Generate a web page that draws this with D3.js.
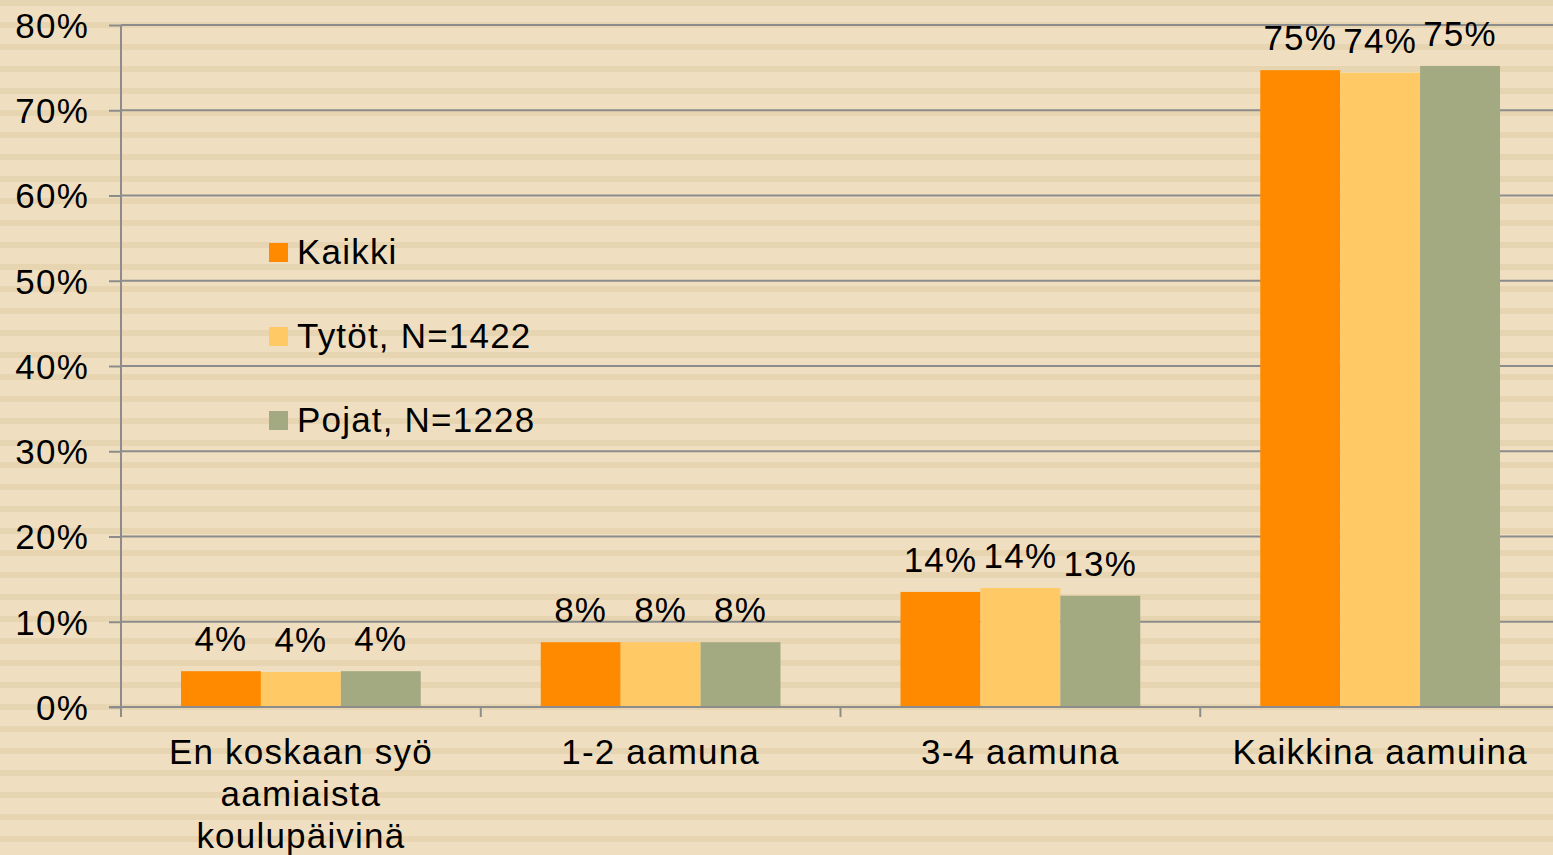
<!DOCTYPE html>
<html>
<head>
<meta charset="utf-8">
<script src="https://cdn.jsdelivr.net/npm/d3@7"></script>
<style>
body { margin: 0; padding: 0; overflow: hidden; }
svg text { font-family: "Liberation Sans", Arial, sans-serif; fill: #000; font-size: 35px; letter-spacing: 1.2px; }
.grid line { stroke: #8c8c8c; stroke-width: 2px; }
.axis path, .axis line { stroke: #8c8c8c; stroke-width: 2px; }
</style>
</head>
<body>
<svg id="chart" width="1553" height="855"></svg>
<script>

var categories = [["En koskaan syö", "aamiaista", "koulupäivinä"], ["1-2 aamuna"], ["3-4 aamuna"], ["Kaikkina aamuina"]];
var seriesNames = ["Kaikki", "Tytöt, N=1422", "Pojat, N=1228"];
var kaikki = [4.2, 7.6, 13.5, 74.7];
var tytot = [4.1, 7.6, 13.95, 74.4];
var pojat = [4.2, 7.6, 13.05, 75.2];
var valueLabels = [["4%", "8%", "14%", "75%"], ["4%", "8%", "14%", "74%"], ["4%", "8%", "13%", "75%"]];
var yTicks = [0, 10, 20, 30, 40, 50, 60, 70, 80];
var colors = ["#ff8a00", "#ffc966", "#a3a980"];

var series = [kaikki, tytot, pojat];

var svg = d3.select("#chart"),
    W = +svg.attr("width"),
    H = +svg.attr("height");

/// striped background
var defs = svg.append("defs");
var pat = defs.append("pattern")
    .attr("id", "stripes")
    .attr("patternUnits", "userSpaceOnUse")
    .attr("width", 40).attr("height", 22);
pat.append("rect").attr("width", 40).attr("height", 22).attr("fill", "#efdfc0");
pat.append("rect").attr("width", 40).attr("height", 6).attr("fill", "#e7d5b1");
svg.append("rect").attr("width", W).attr("height", H).attr("fill", "url(#stripes)");

var margin = {top: 25, left: 121, bottom: 148},
    plotW = 1439,
    plotH = H - margin.top - margin.bottom; // 682

var g = svg.append("g").attr("transform", "translate(" + margin.left + "," + margin.top + ")");

var x = d3.scaleBand()
    .domain(d3.range(categories.length))
    .range([0, plotW])
    .paddingInner(0).paddingOuter(0);

var xs = d3.scaleBand()
    .domain(d3.range(series.length))
    .range([60, x.bandwidth() - 60]);

var y = d3.scaleLinear().domain([0, 80]).range([plotH, 0]);

/// gridlines
g.append("g").attr("class", "grid")
  .selectAll("line").data(yTicks.slice(1)).enter().append("line")
    .attr("x1", 0).attr("x2", plotW)
    .attr("y1", function(d) { return y(d); })
    .attr("y2", function(d) { return y(d); });

/// y axis
var yAxis = d3.axisLeft(y).tickValues(yTicks).tickSize(12).tickPadding(20)
    .tickFormat(function(d) { return d + "%"; });
var ya = g.append("g").attr("class", "axis").call(yAxis);
ya.select(".domain").attr("d", "M0," + plotH + "V0");
ya.selectAll("text").attr("font-size", null).attr("font-family", null).attr("dy", "0.35em");

/// bars
series.forEach(function(vals, si) {
  g.selectAll(".bar" + si).data(vals).enter().append("rect")
    .attr("x", function(d, i) { return x(i) + xs(si); })
    .attr("y", function(d) { return y(d); })
    .attr("width", xs.bandwidth())
    .attr("height", function(d) { return plotH - y(d); })
    .attr("fill", colors[si]);

  g.selectAll(".lab" + si).data(vals).enter().append("text")
    .attr("x", function(d, i) { return x(i) + xs(si) + xs.bandwidth() / 2; })
    .attr("y", function(d) { return y(d) - 20; })
    .attr("text-anchor", "middle")
    .text(function(d, i) { return valueLabels[si][i]; });
});

/// x axis
var xa = g.append("g").attr("class", "axis").attr("transform", "translate(0," + plotH + ")");
xa.append("line").attr("x1", -12).attr("x2", plotW).attr("y1", 0).attr("y2", 0);
xa.selectAll(".tick").data(d3.range(categories.length + 1)).enter().append("line")
    .attr("x1", function(d) { return d * x.bandwidth(); })
    .attr("x2", function(d) { return d * x.bandwidth(); })
    .attr("y1", 0).attr("y2", 10);
xa.selectAll(".cat").data(categories).enter().append("text")
    .attr("text-anchor", "middle")
    .attr("transform", function(d, i) { return "translate(" + (x(i) + x.bandwidth() / 2) + ",0)"; })
  .selectAll("tspan").data(function(d) { return d; }).enter().append("tspan")
    .attr("x", 0)
    .attr("y", function(d, i) { return 57 + i * 42; })
    .text(function(d) { return d; });

/// legend
var legend = svg.append("g").attr("transform", "translate(269,252)");
var li = legend.selectAll("g").data(seriesNames).enter().append("g")
    .attr("transform", function(d, i) { return "translate(0," + (i * 84) + ")"; });
li.append("rect").attr("x", 0).attr("y", -9).attr("width", 19).attr("height", 19)
    .attr("fill", function(d, i) { return colors[i]; });
li.append("text").attr("x", 28).attr("y", 0).attr("dy", "0.35em")
    .text(function(d) { return d; });

</script>
</body>
</html>
